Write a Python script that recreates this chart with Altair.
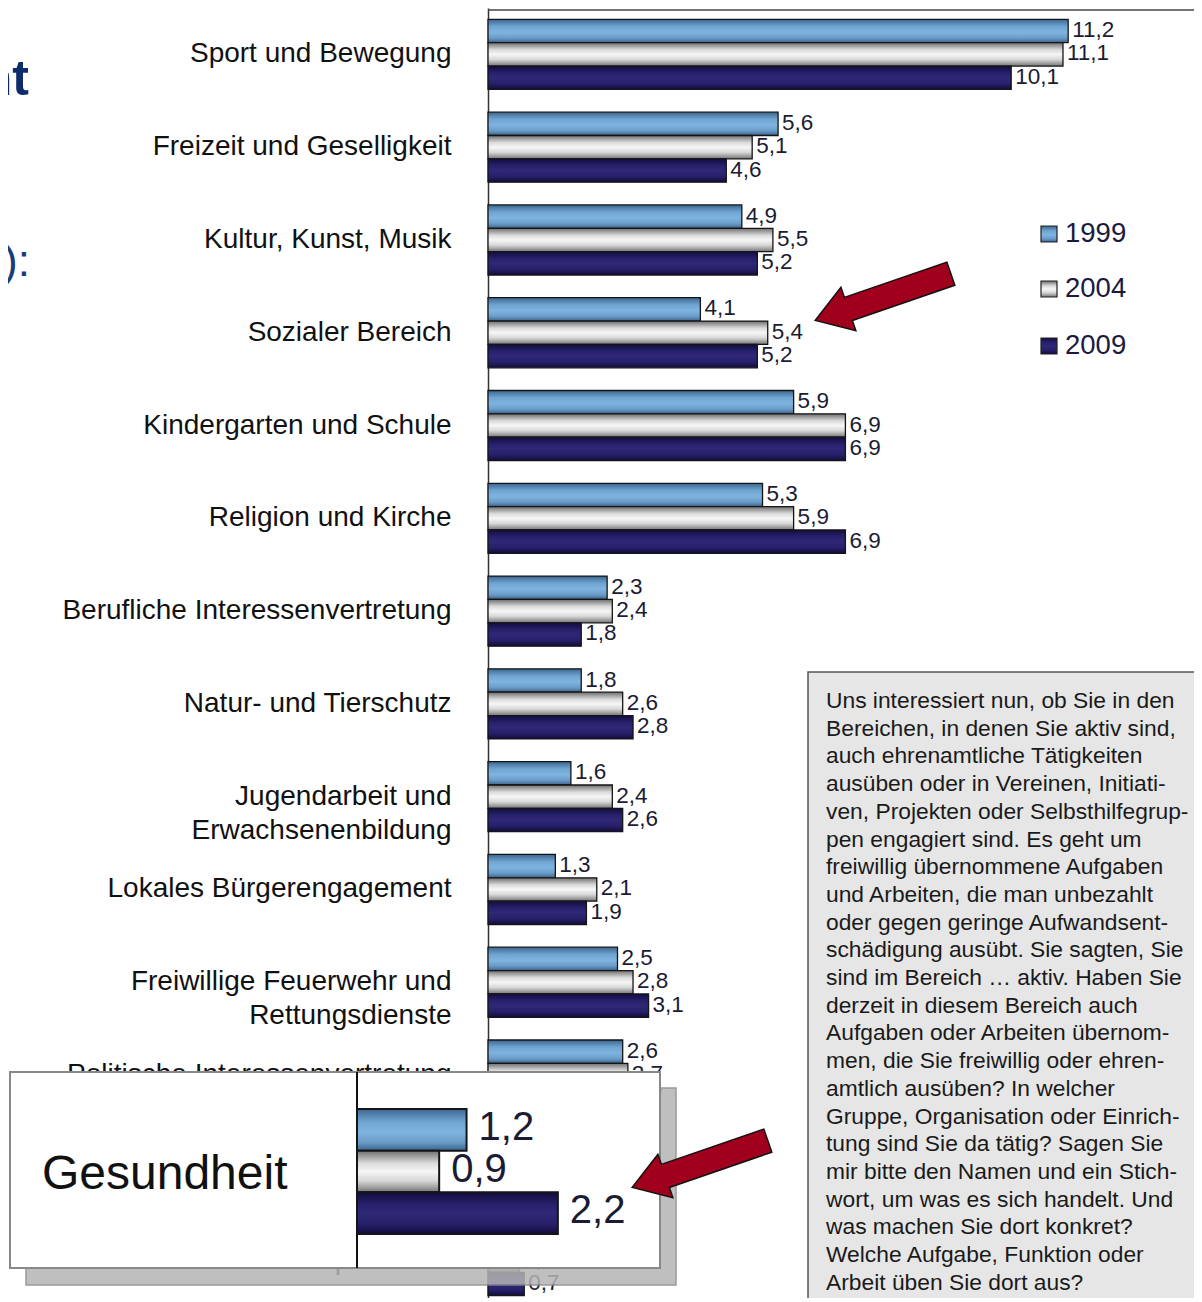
import altair as alt
import pandas as pd

# ---------------- data ----------------
categories = [
    "Sport und Bewegung",
    "Freizeit und Geselligkeit",
    "Kultur, Kunst, Musik",
    "Sozialer Bereich",
    "Kindergarten und Schule",
    "Religion und Kirche",
    "Berufliche Interessenvertretung",
    "Natur- und Tierschutz",
    "Jugendarbeit und\nErwachsenenbildung",
    "Lokales Bürgerengagement",
    "Freiwillige Feuerwehr und\nRettungsdienste",
    "Politische Interessenvertretung",
    "Gesundheit",
    "Kriminalitätsprobleme",
]
years = ["1999", "2004", "2009"]
v1999 = [11.2, 5.6, 4.9, 4.1, 5.9, 5.3, 2.3, 1.8, 1.6, 1.3, 2.5, 2.6, 1.2, 0.5]
v2004 = [11.1, 5.1, 5.5, 5.4, 6.9, 5.9, 2.4, 2.6, 2.4, 2.1, 2.8, 2.7, 0.9, 0.6]
v2009 = [10.1, 4.6, 5.2, 5.2, 6.9, 6.9, 1.8, 2.8, 2.6, 1.9, 3.1, 2.7, 2.2, 0.7]
inset_category = "Gesundheit"

question_lines = [
    "Uns interessiert nun, ob Sie in den",
    "Bereichen, in denen Sie aktiv sind,",
    "auch ehrenamtliche Tätigkeiten",
    "ausüben oder in Vereinen, Initiati-",
    "ven, Projekten oder Selbsthilfegrup-",
    "pen engagiert sind. Es geht um",
    "freiwillig übernommene Aufgaben",
    "und Arbeiten, die man unbezahlt",
    "oder gegen geringe Aufwandsent-",
    "schädigung ausübt. Sie sagten, Sie",
    "sind im Bereich … aktiv. Haben Sie",
    "derzeit in diesem Bereich auch",
    "Aufgaben oder Arbeiten übernom-",
    "men, die Sie freiwillig oder ehren-",
    "amtlich ausüben? In welcher",
    "Gruppe, Organisation oder Einrich-",
    "tung sind Sie da tätig? Sagen Sie",
    "mir bitte den Namen und ein Stich-",
    "wort, um was es sich handelt. Und",
    "was machen Sie dort konkret?",
    "Welche Aufgabe, Funktion oder",
    "Arbeit üben Sie dort aus?",
]
title_fragment = "nt"
title_fragment2 = "):"

rows = []
for series, yr in zip([v1999, v2004, v2009], years):
    for c, v in zip(categories, series):
        rows.append({"cat": c, "year": yr, "value": v,
                     "label": f"{v:.1f}".replace(".", ",")})
df = pd.DataFrame(rows)

# ---------------- styles ----------------
FONT = "Liberation Sans"
W, H = 706, 1290
PX_PER_UNIT = 51.8

def grad(stops):
    return alt.LinearGradient(
        gradient="linear", x1=0, y1=0, x2=0, y2=1,
        stops=[alt.GradientStop(offset=o, color=c) for o, c in stops])

fills = {
    "1999": grad([(0, "#3b6690"), (0.3, "#6fa3d0"), (0.55, "#80b4e0"), (0.8, "#6a9cc8"), (1, "#3a628a")]),
    "2004": grad([(0, "#6e6e6e"), (0.3, "#dadada"), (0.5, "#f6f6f6"), (0.72, "#d8d8d8"), (1, "#757575")]),
    "2009": grad([(0, "#120d40"), (0.3, "#28216c"), (0.5, "#2e2877"), (0.75, "#27206a"), (1, "#110c3c")]),
}

y_axis = alt.Axis(title=None, ticks=False, domain=True, domainColor="#333",
                  domainWidth=1.5, labelFontSize=28, labelFont=FONT,
                  labelColor="#111", labelPadding=37, labelLimit=0,
                  labelLineHeight=34, labelExpr="split(datum.label, '\\n')")
y_main = alt.Y("cat:N", sort=categories,
               scale=alt.Scale(domain=categories, range=[0, 1299],
                               paddingInner=0.245, paddingOuter=0.1225),
               axis=y_axis)
x_main = alt.X("value:Q", scale=alt.Scale(domain=[0, W / PX_PER_UNIT], nice=False),
               axis=None)
yoff = alt.YOffset("year:N", scale=alt.Scale(domain=years, paddingInner=0, paddingOuter=0))

base = alt.Chart(df)
bar_layers = [
    base.transform_filter(alt.datum.year == yr)
    .mark_bar(fill=fills[yr], stroke="#151515", strokeWidth=1.3)
    .encode(x=x_main, y=y_main, yOffset=yoff)
    for yr in years
]
value_labels = base.mark_text(align="left", baseline="middle", dx=4, dy=-1,
                              fontSize=22.5, font=FONT, color="#1b1b33").encode(
    x=x_main, y=y_main, yOffset=yoff, text="label:N")
main = alt.layer(*bar_layers, value_labels)

# ---------------- decorations ----------------
one = alt.Data(values=[{}])

top_border = alt.Chart(one).mark_rule(color="#444", strokeWidth=1.5).encode(
    x=alt.value(0), x2=alt.value(W), y=alt.value(2))

title1 = alt.Chart(one).mark_text(align="right", baseline="alphabetic", fontSize=50,
                                  fontWeight="bold", font=FONT, color="#0c2c6c",
                                  text=title_fragment).encode(
    x=alt.value(-459), y=alt.value(87))
title2 = alt.Chart(one).mark_text(align="right", baseline="alphabetic", fontSize=44,
                                  font=FONT, color="#1a3a7a",
                                  text=title_fragment2).encode(
    x=alt.value(-458), y=alt.value(268))

# legend
legend_layers = []
for yr, yc in zip(years, [226, 281, 338]):
    legend_layers.append(
        alt.Chart(one).mark_rect(fill=fills[yr], stroke="#222", strokeWidth=1.2).encode(
            x=alt.value(553), x2=alt.value(569), y=alt.value(yc - 8), y2=alt.value(yc + 8)))
    legend_layers.append(
        alt.Chart(one).mark_text(align="left", baseline="middle", fontSize=27.5, font=FONT,
                                 color="#1a1a40", text=yr).encode(
            x=alt.value(577), y=alt.value(yc)))

# question text box
qbox = alt.Chart(one).mark_rect(fill="#e6e6e6", stroke="#555", strokeWidth=1.5).encode(
    x=alt.value(320), x2=alt.value(740), y=alt.value(664), y2=alt.value(1340))
qtext = alt.Chart(one).mark_text(align="left", baseline="alphabetic", fontSize=22.8,
                                 font=FONT, color="#1a1a1a", lineHeight=27.7,
                                 text=question_lines).encode(
    x=alt.value(338), y=alt.value(700))

# arrows
ARROW = "M -1 0 L -0.51 -0.32 L -0.51 -0.17 L 1 -0.17 L 1 0.17 L -0.51 0.17 L -0.51 0.32 Z"
arrow_layers = [
    alt.Chart(one).mark_point(shape=ARROW, filled=True, fill="#a0001c", stroke="#111",
                              strokeWidth=1.5, opacity=1, size=20600, angle=341).encode(
        x=alt.value(ax), y=alt.value(ay))
    for ax, ay in [(395, 289), (212, 1156)]
]

# inset (magnified Gesundheit)
shadow = alt.Chart(one).mark_rect(fill="#b4b4b4", opacity=0.85, stroke="#888",
                                  strokeWidth=1.5).encode(
    x=alt.value(-462), x2=alt.value(188), y=alt.value(1080), y2=alt.value(1277))
whitebox = alt.Chart(one).mark_rect(fill="white", stroke="#888", strokeWidth=2).encode(
    x=alt.value(-478), x2=alt.value(172), y=alt.value(1064), y2=alt.value(1260))
inset_axis = alt.Chart(one).mark_rule(color="#111", strokeWidth=2).encode(
    x=alt.value(-131), y=alt.value(1064), y2=alt.value(1260))
inset_title = alt.Chart(one).mark_text(align="left", baseline="alphabetic", fontSize=48,
                                       font=FONT, color="#111", text=inset_category).encode(
    x=alt.value(-446), y=alt.value(1181))

x_in = alt.X("value:Q", scale=alt.Scale(domain=[0, 10], range=[-131, 782], nice=False),
             axis=None)
y_in = alt.Y("year:N", scale=alt.Scale(domain=years, range=[1101, 1226],
                                       paddingInner=0, paddingOuter=0), axis=None)
ibase = alt.Chart(df).transform_filter(alt.datum.cat == inset_category)
inset_bars = [
    ibase.transform_filter(alt.datum.year == yr)
    .mark_bar(fill=fills[yr], stroke="#151515", strokeWidth=2)
    .encode(x=x_in, y=y_in)
    for yr in years
]
inset_labels = ibase.mark_text(align="left", baseline="middle", dx=12, dy=-2,
                               fontSize=40, font=FONT, color="#1b1b33").encode(
    x=x_in, y=y_in, text="label:N")
inset = alt.layer(*inset_bars, inset_labels)

chart = alt.layer(
    main, top_border, title1, title2, *legend_layers, qbox, qtext,
    shadow, whitebox, inset_axis, inset_title, inset, *arrow_layers,
).resolve_scale(x="independent", y="independent").properties(
    width=W, height=H,
    padding={"left": 480, "top": 0, "right": 0, "bottom": 0},
    autosize=alt.AutoSizeParams(type="none"),
).configure_view(stroke=None)

chart.save("out.html", embed_options={"renderer": "svg", "actions": False})
